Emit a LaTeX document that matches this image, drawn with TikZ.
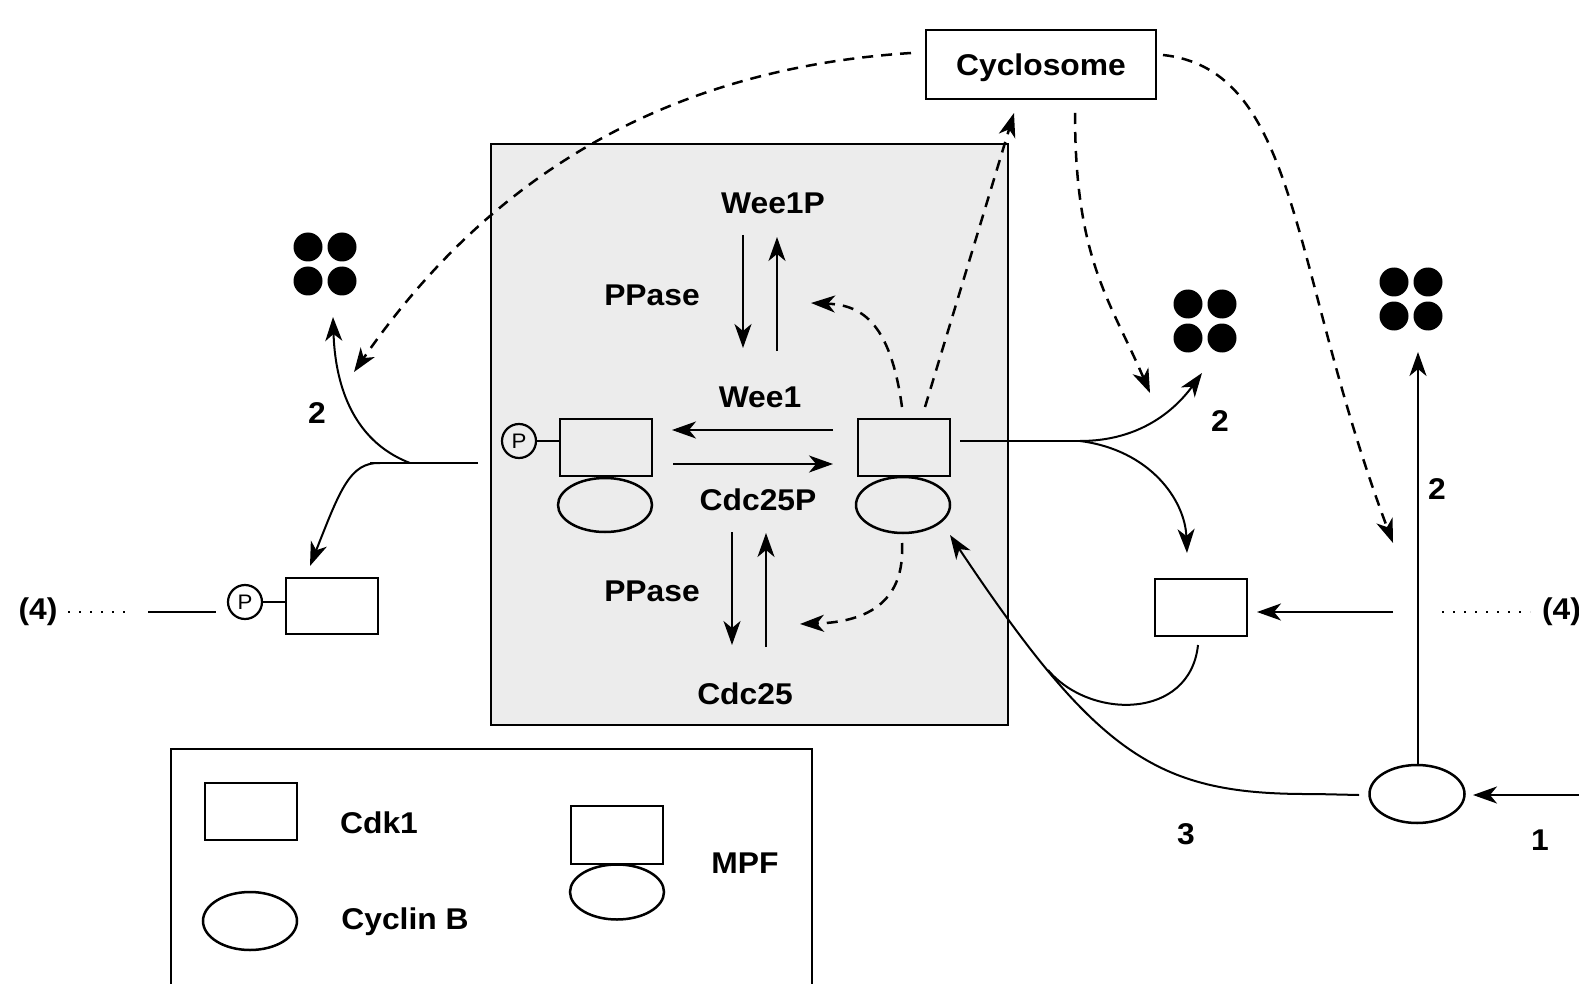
\documentclass[tikz,border=0pt]{standalone}
\usepackage{fontspec}
\setmainfont{Liberation Sans}[FakeStretch=1.06]
\usetikzlibrary{arrows.meta,shapes.geometric}
\definecolor{cellgray}{RGB}{236,236,236}
\newcommand\blobquad[3]{%
  \node[blob] (#1a) at (#2,#3) {};
  \node[blob] (#1b) at (#2+34,#3) {};
  \node[blob] (#1c) at (#2,#3+34) {};
  \node[blob] (#1d) at (#2+34,#3+34) {};}
\begin{document}
\begin{tikzpicture}[x=1pt,y=-1pt,
  every node/.style={inner sep=0pt, outer sep=0pt},
  lbl/.style={font=\fontsize{30}{32}\selectfont\bfseries},
  cdk/.style={draw, line width=2pt, minimum width=92pt, minimum height=57pt},
  cyc/.style={draw, ellipse, line width=2.5pt, minimum width=94pt, minimum height=54pt},
  phos/.style={draw, circle, line width=2.2pt, minimum size=34pt, font=\fontsize{21}{21}\selectfont},
  blob/.style={fill, circle, minimum size=29pt},
  link/.style={line width=2pt},
  arr/.style={line width=2pt, -{Stealth[length=24pt,width=17pt,inset=7pt]}},
  darr/.style={arr, line width=2.5pt, dash pattern=on 11pt off 8pt},
  dotline/.style={line width=2pt, dash pattern=on 2pt off 9pt},
]
\useasboundingbox (0,0) rectangle (1579,984);

% the grey compartment
\node[draw, fill=cellgray, line width=2pt, minimum width=517pt, minimum height=581pt] (cell) at (749.5,434.5) {};

% cyclosome
\node[draw, line width=2pt, minimum width=230pt, minimum height=69pt] (apc) at (1041,64.5) {};
\node[lbl] (apcT) at (1041,68) {Cyclosome};

% MPF with phosphorylated Cdk1 (left) and active MPF (right)
\node[cdk] (cdkL) at (606,447) {};
\node[cyc] (cycL) at (605,505) {};
\node[phos] (pL) at (519,441) {P};
\draw[link] (pL) -- (cdkL.west |- pL);
\node[cdk] (cdkR) at (903.5,447) {};
\node[cyc, minimum height=56pt] (cycR) at (903,505) {};

% labels inside the compartment
\node[lbl] (wee1p) at (773,203) {Wee1P};
\node[lbl] (ppase1) at (652,295) {PPase};
\node[lbl] (wee1) at (760,397) {Wee1};
\node[lbl] (cdc25p) at (758,500) {Cdc25P};
\node[lbl] (ppase2) at (652,591) {PPase};
\node[lbl] (cdc25) at (745,694) {Cdc25};

% Wee1 / Cdc25 reactions
\coordinate (w1a) at (833,430); \coordinate (w1b) at (672,430);
\coordinate (c25a) at (673,464); \coordinate (c25b) at (833,464);
\draw[arr] (w1a) -- (w1b);
\draw[arr] (c25a) -- (c25b);
\coordinate (wd1) at (743,235); \coordinate (wd2) at (743,348);
\coordinate (wu1) at (777,351); \coordinate (wu2) at (777,237);
\draw[arr] (wd1) -- (wd2);
\draw[arr] (wu1) -- (wu2);
\coordinate (cd1) at (732,532); \coordinate (cd2) at (732,645);
\coordinate (cu1) at (766,647); \coordinate (cu2) at (766,533);
\draw[arr] (cd1) -- (cd2);
\draw[arr] (cu1) -- (cu2);

% MPF feedback (dashed)
\coordinate (fbW0) at (902,407); \coordinate (fbW) at (811,303);
\coordinate (fbC0) at (902,543); \coordinate (fbC) at (800,624);
\coordinate (toApc0) at (925,407); \coordinate (toApc) at (1014,113);
\draw[darr] (fbW0) .. controls (890,320) and (860,305) .. (fbW);
\draw[darr] (fbC0) .. controls (905,600) and (870,622) .. (fbC);
\draw[darr] (toApc0) -- (toApc);

% degradation products
\blobquad{dL}{308}{247}
\blobquad{dM}{1188}{304}
\blobquad{dR}{1394}{282}

% cyclosome actions (dashed)
\coordinate (aL0) at (911,53);   \coordinate (aL) at (354,372);
\coordinate (aM0) at (1075,113); \coordinate (aM) at (1150,393);
\coordinate (aR0) at (1163,55);  \coordinate (aR) at (1393,543);
\draw[darr] (aL0) .. controls (650,70) and (480,190) .. (aL);
\draw[darr] (aR0) .. controls (1300,70) and (1290,270) .. (aR);
\draw[darr] (aM0) .. controls (1075,260) and (1110,300) .. (aM);

% left: export of inactive MPF
\node[cdk, minimum height=56pt] (cdkPL) at (332,606) {};
\node[phos] (pPL) at (245,602) {P};
\draw[link] (pPL) -- (cdkPL.west |- pPL);
\coordinate (oL0) at (478,463); \coordinate (jL) at (370,463);
\coordinate (uL0) at (410,463); \coordinate (uL) at (333,317);
\coordinate (dnL0) at (380,463); \coordinate (dnL) at (310,566);
\draw[link] (oL0) -- (jL);
\draw[arr] (uL0) .. controls (350,440) and (335,380) .. (uL);
\draw[arr] (dnL0) .. controls (350,462) and (340,490) .. (dnL);
\node[lbl] (n2L) at (317,413) {2};
\coordinate (l4a) at (68,612); \coordinate (l4b) at (133,612);
\coordinate (l4c) at (148,612); \coordinate (l4d) at (216,612);
\draw[dotline] (l4a) -- (l4b);
\draw[link] (l4c) -- (l4d);
\node[lbl] (n4L) at (38,612) {(4)};

% right: active MPF leaving the compartment
\node[cdk] (cdkR2) at (1200.5,607) {};
\coordinate (oR0) at (960,441); \coordinate (jR) at (1090,441);
\coordinate (bR0) at (1080,441);
\coordinate (uR) at (1202,373); \coordinate (dnR) at (1187,553);
\draw[link] (oR0) -- (jR);
\draw[arr] (bR0) .. controls (1140,441) and (1175,410) .. (uR);
\draw[arr] (bR0) .. controls (1150,450) and (1185,500) .. (dnR);
\node[lbl] (n2M) at (1220,421) {2};

% newly synthesised cyclin B
\node[cyc, minimum width=95pt, minimum height=58pt] (cycN) at (1417,794) {};
\coordinate (in1) at (1579,795); \coordinate (in1t) at (1473,795);
\draw[arr] (in1) -- (in1t);
\coordinate (upR0) at (1418,765); \coordinate (upR) at (1418,352);
\draw[arr] (upR0) -- (upR);
\node[lbl] (n2R) at (1437,489) {2};
\node[lbl] (n1) at (1540,840) {1};
\coordinate (r4a) at (1442,612); \coordinate (r4b) at (1530,612);
\draw[dotline] (r4a) -- (r4b);
\node[lbl, anchor=east] (n4R) at (1581,612) {(4)};
\coordinate (r4c) at (1393,612); \coordinate (r4t) at (1257,612);
\draw[arr] (r4c) -- (r4t);

% binding of cyclin B to Cdk1
\coordinate (bd0) at (1359,795); \coordinate (bd1) at (1315,794);
\coordinate (bdt) at (950,535);
\draw[arr] (bd0) -- (bd1) .. controls (1160,795) and (1100,760) .. (bdt);
\coordinate (mk0) at (1198,645); \coordinate (mk) at (1048,670);
\draw[link] (mk0) .. controls (1190,720) and (1090,720) .. (mk);
\node[lbl] (n3) at (1186,834) {3};

% key
\coordinate (k1) at (171,990); \coordinate (k2) at (171,749);
\coordinate (k3) at (812,749); \coordinate (k4) at (812,990);
\draw[link] (k1) -- (k2) -- (k3) -- (k4);
\node[cdk] (kCdk) at (251,811.5) {};
\node[lbl] (kCdkT) at (379,823) {Cdk1};
\node[cyc, minimum width=94pt, minimum height=58pt] (kCyc) at (250,921) {};
\node[lbl] (kCycT) at (405,922) {Cyclin B};
\node[cdk, minimum height=58pt] (kMpfA) at (617,835) {};
\node[cyc, minimum width=94pt, minimum height=55pt] (kMpfB) at (617,892) {};
\node[lbl] (kMpfT) at (745,863) {MPF};
\end{tikzpicture}
\end{document}
